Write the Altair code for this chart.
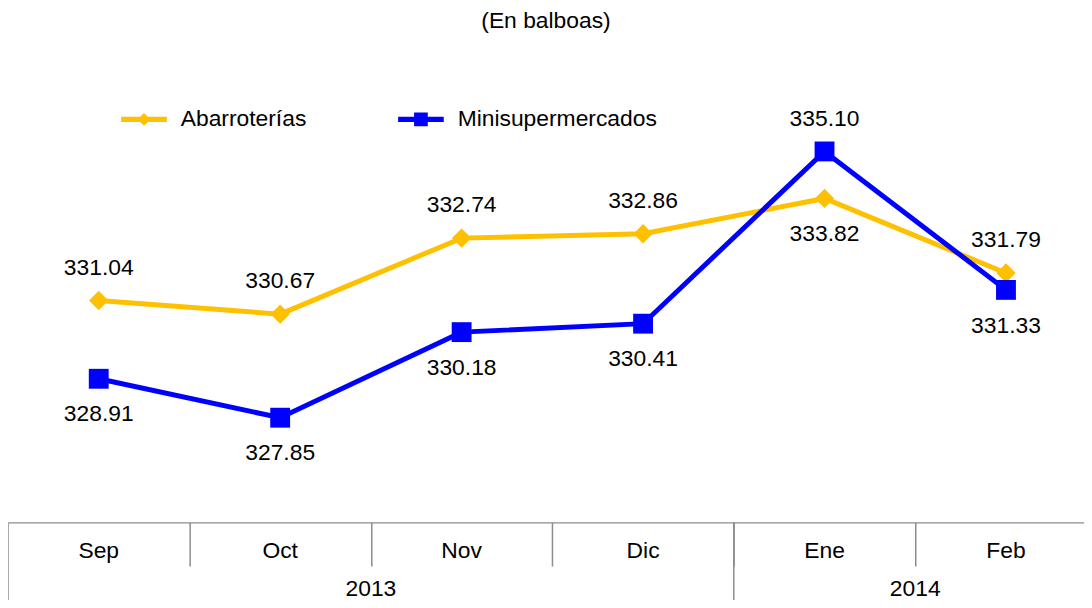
import altair as alt
import pandas as pd

# ---- data ----
months = ["Sep", "Oct", "Nov", "Dic", "Ene", "Feb"]
years = ["2013", "2013", "2013", "2013", "2014", "2014"]
series_names = ["Abarroterías", "Minisupermercados"]
abarroterias = [331.04, 330.67, 332.74, 332.86, 333.82, 331.79]
minisupermercados = [328.91, 327.85, 330.18, 330.41, 335.10, 331.33]

# label placement (True = above the point)
abarr_above = [True, True, True, True, False, True]
mini_above = [False, False, False, False, True, False]

colors = ["#FFC000", "#0000FF"]
FONT = "Liberation Sans"
FS = 23
GRAY = "#8c8c8c"

rows = []
for s, vals, above in [(series_names[0], abarroterias, abarr_above),
                       (series_names[1], minisupermercados, mini_above)]:
    for i, (m, y, v, a) in enumerate(zip(months, years, vals, above)):
        rows.append({"series": s, "month": m, "year": y, "idx": i,
                     "value": v, "above": a, "label": f"{v:.2f}"})
df = pd.DataFrame(rows)
months_df = pd.DataFrame({"month": months, "year": years, "idx": list(range(len(months)))})

x_scale = alt.Scale(domain=[0, 5.93], nice=False, zero=False)
x_axis = alt.Axis(values=[1, 2, 3, 4, 5], labels=False, title=None, grid=False,
                  ticks=True, tickSize=44, tickColor=GRAY, tickWidth=1.5,
                  domainColor=GRAY, domainWidth=1.5)
x_enc = alt.X("pos:Q", scale=x_scale, axis=x_axis)
y_enc = alt.Y("value:Q", scale=alt.Scale(domain=[325, 337], nice=False, zero=False), axis=None)
color_scale = alt.Scale(domain=series_names, range=colors)

base = alt.Chart(df).transform_calculate(pos="datum.idx + 0.5")

layers = []

# legend layer first (no marks drawn, only the legend)
path_diamond = "M-1,-0.11H1V0.11H-1Z M0,-0.28L0.28,0L0,0.28L-0.28,0Z"
path_square = "M-1,-0.11H1V0.11H-1Z M-0.3,-0.3H0.3V0.3H-0.3Z"
leg = alt.Legend(title=None, orient="none", legendX=114, legendY=15, direction="horizontal",
                 symbolSize=2116, labelOffset=14, columnPadding=92, labelLimit=0,
                 labelFont=FONT, labelFontSize=FS, labelColor="black",
                 symbolStrokeWidth=0, symbolOpacity=1)
layers.append(base.mark_point(filled=True, opacity=0).encode(
    x=x_enc, y=y_enc,
    color=alt.Color("series:N", scale=color_scale, legend=leg),
    shape=alt.Shape("series:N", scale=alt.Scale(domain=series_names,
                                                range=[path_diamond, path_square]),
                    legend=leg)))

shapes = ["diamond", "square"]
sizes = [380, 400]
for s, c, shp, sz in zip(series_names, colors, shapes, sizes):
    sb = base.transform_filter(alt.datum.series == s)
    layers.append(sb.mark_line(strokeWidth=5, color=c).encode(x=x_enc, y=y_enc))
    layers.append(sb.mark_point(filled=True, shape=shp, size=sz, opacity=1, color=c).encode(
        x=x_enc, y=y_enc))

# data labels
layers.append(base.transform_filter("datum.above").mark_text(
    dy=-33, fontSize=FS, font=FONT, color="black", baseline="middle").encode(
    x=x_enc, y=y_enc, text="label:N"))
layers.append(base.transform_filter("!datum.above").mark_text(
    dy=36, fontSize=FS, font=FONT, color="black", baseline="middle").encode(
    x=x_enc, y=y_enc, text="label:N"))

# table: month labels
mbase = alt.Chart(months_df).transform_calculate(pos="datum.idx + 0.5")
layers.append(mbase.mark_text(fontSize=FS, font=FONT, color="black", baseline="middle").encode(
    x=x_enc, y=alt.value(473), text="month:N"))

# table: year labels and full-height boundaries
ybase = alt.Chart(months_df).transform_calculate(pos="datum.idx + 0.5").transform_aggregate(
    center="mean(pos)", start="min(idx)", groupby=["year"])
layers.append(ybase.mark_text(fontSize=FS, font=FONT, color="black", baseline="middle").encode(
    x=alt.X("center:Q", scale=x_scale, axis=x_axis), y=alt.value(511), text="year:N"))
layers.append(ybase.mark_rule(color=GRAY, strokeWidth=1.5).encode(
    x=alt.X("start:Q", scale=x_scale, axis=x_axis), y=alt.value(444), y2=alt.value(540)))

chart = alt.layer(*layers).properties(
    width=1084, height=444,
    padding={"left": 0, "top": 72, "right": 0, "bottom": 76},
    autosize=alt.AutoSizeParams(type="none"),
    title=alt.TitleParams("(En balboas)", font=FONT, fontSize=FS, fontWeight="normal",
                          color="black", anchor="middle", frame="group", offset=38,
                          baseline="middle"),
    background="white",
).configure_view(stroke=None)

chart.save("out.html", embed_options={"renderer": "svg", "actions": False})
